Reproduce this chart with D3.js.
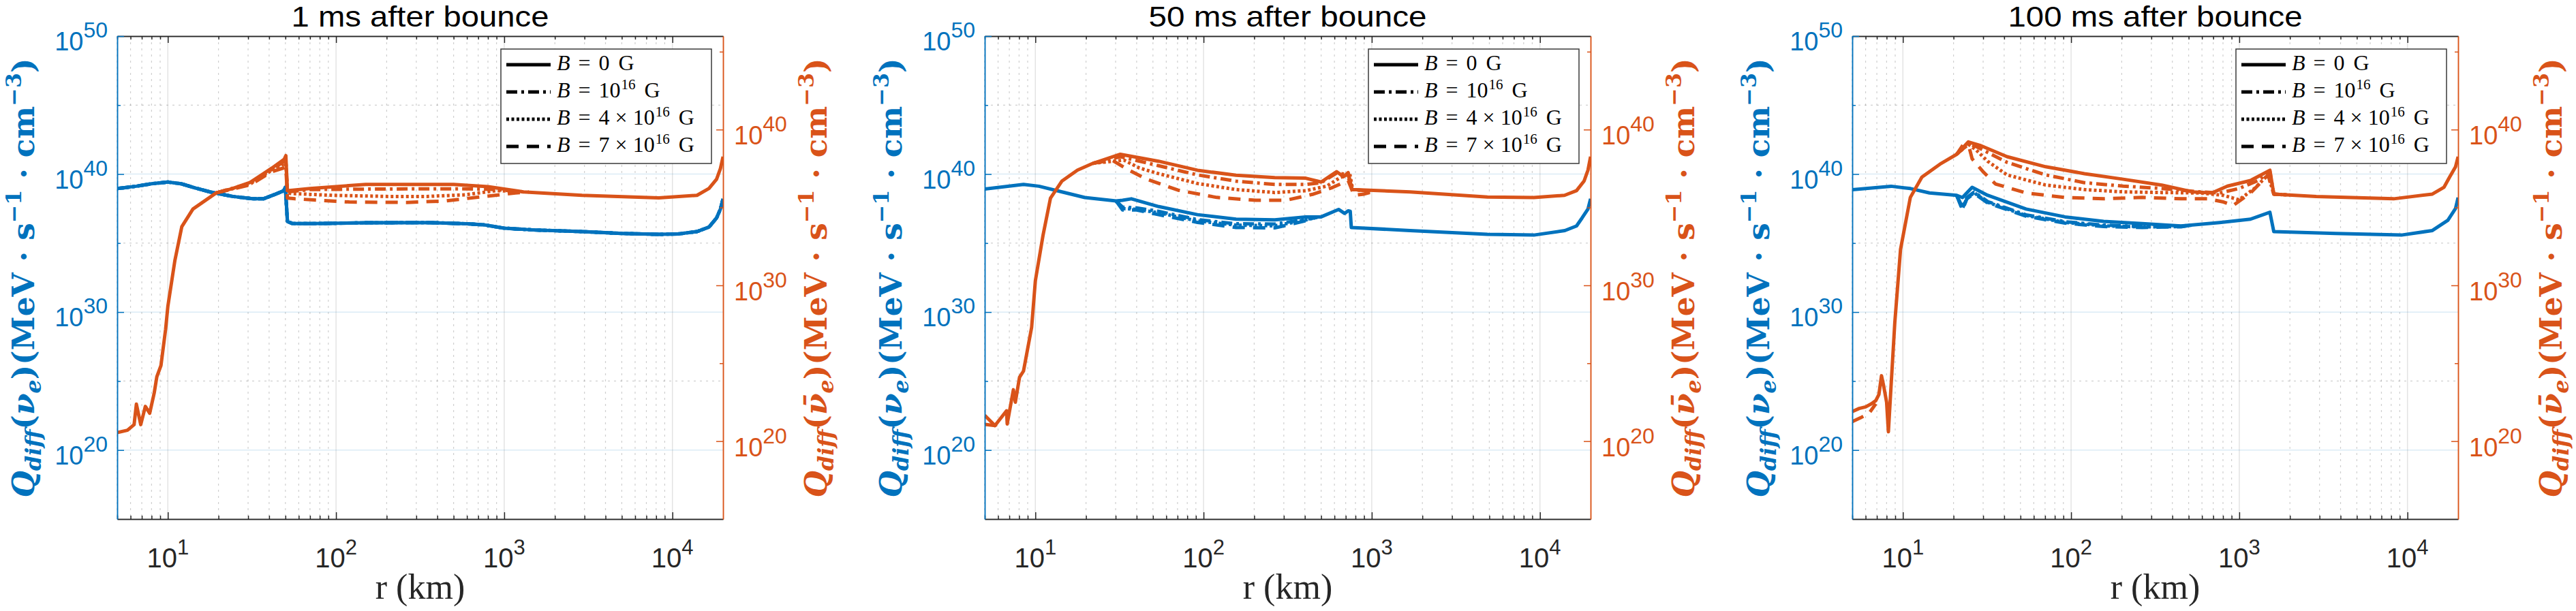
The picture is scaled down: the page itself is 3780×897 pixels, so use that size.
<!DOCTYPE html>
<html>
<head>
<meta charset="utf-8">
<script src="https://d3js.org/d3.v7.min.js"></script>
<style>
  body { margin: 0; background: #fff; }
</style>
</head>
<body>
<div id="chart"></div>
<script>
// ---- axes / labels ----
const panelTitles = ["1 ms after bounce", "50 ms after bounce", "100 ms after bounce"];
const rDomain = [5, 20000];
const nueDomain = [1e15, 1e50];
const barDomain = [1e15, 1e46];
const rMajorTicks = [10, 100, 1000, 10000];
const nueMajorTicks = [1e20, 1e30, 1e40, 1e50];
const nueMinorTicks = [1e25, 1e35, 1e45];
const barMajorTicks = [1e20, 1e30, 1e40];
const barMinorTicks = [1e25, 1e35, 1e45];
// legend entries: [text, style, gap before]
const legendEntries = [
  [["B", "i", 0], ["=", "", 12], ["0", "", 12], ["G", "", 13]],
  [["B", "i", 0], ["=", "", 12], ["10", "", 12], ["16", "sup", 1], ["G", "", 13]],
  [["B", "i", 0], ["=", "", 12], ["4", "", 12], ["×", "", 8], ["10", "", 8], ["16", "sup", 1], ["G", "", 13]],
  [["B", "i", 0], ["=", "", 12], ["7", "", 12], ["×", "", 8], ["10", "", 8], ["16", "sup", 1], ["G", "", 13]]
];

// ---- 1 ms after bounce ----
const r1Nue = [5, 6.5, 8, 10, 12, 14.5, 17.8, 24.3, 32, 37, 43.6, 48.8, 50, 51.4, 55, 71, 150, 350, 600, 760, 1000, 1500, 2900, 5000, 8300, 10800, 14000, 16500, 18300, 19300, 20000];
const q1Nue = [8.9e38, 1.32e39, 2.0e39, 2.63e39, 2.0e39, 1.0e39, 5.1e38, 2.4e38, 1.62e38, 1.62e38, 3.47e38, 6.2e38, 1.1e39, 3.7e36, 2.63e36, 2.57e36, 2.95e36, 3.1e36, 2.51e36, 2.09e36, 1.2e36, 8.9e35, 6.8e35, 5.0e35, 4.27e35, 4.57e35, 6.8e35, 1.45e36, 6.6e36, 2.95e37, 1.58e38];

const r1Bar = [5, 5.75, 6.3, 6.5, 6.9, 7.35, 7.8, 8.3, 8.6, 9.1, 9.7, 10.0, 11.0, 12.1, 14.1, 19.4, 24, 30.8, 41.6, 49.2, 50.3, 51.4, 70, 150, 500, 800, 1300, 2900, 8300, 14000, 16500, 18300, 19300, 20000];
const q1Bar = [3.55e20, 5.0e20, 1.15e21, 2.4e22, 1.15e21, 1.7e22, 6.2e21, 1.26e23, 1.35e24, 7.1e24, 1.55e27, 4.4e28, 3.7e31, 5.75e33, 7.9e34, 8.7e35, 1.58e36, 4.0e36, 3.4e37, 1.26e38, 2.14e38, 1.2e36, 1.66e36, 3.0e36, 3.0e36, 2.19e36, 1.0e36, 6.0e35, 4.1e35, 6.0e35, 1.66e36, 6.5e36, 3.16e37, 1.82e38];
const r1BarB1 = [19.4, 30.8, 41.6, 49.2, 50.3, 51.4, 70, 150, 350, 600, 900, 1300];
const q1BarB1 = [8.7e35, 3.55e36, 2.8e37, 8.9e37, 1.0e38, 1.0e36, 1.41e36, 1.51e36, 1.58e36, 1.58e36, 1.41e36, 1.0e36];
const r1BarB4 = [19.4, 30.8, 41.6, 49.2, 50.3, 51.4, 54, 96, 204, 346, 587, 896, 1100];
const q1BarB4 = [8.7e35, 3.16e36, 2.5e37, 6.3e37, 7.1e37, 8.9e35, 7.9e35, 6.0e35, 5.1e35, 5.1e35, 6.5e35, 1.2e36, 1.12e36];
const r1BarB7 = [19.4, 30.8, 41.6, 49.2, 50.3, 51.4, 57, 120, 265, 450, 764, 1167, 1400];
const q1BarB7 = [8.7e35, 2.8e36, 2.0e37, 3.55e37, 4.0e37, 4.0e35, 3.6e35, 2.24e35, 2.1e35, 2.63e35, 5.1e35, 8.5e35, 1.0e36];

// ---- 50 ms after bounce ----
const r2Nue = [5, 8.5, 10.5, 14.4, 19.7, 30.2, 33, 37.2, 54.2, 92, 156, 265, 405, 500, 635, 690, 724, 745, 756, 1690, 4875, 9200, 14060, 16500, 17800, 19300, 20000];
const q2Nue = [8.3e38, 1.78e39, 1.32e39, 5.1e38, 2.0e38, 1.12e38, 1.26e38, 1.62e38, 4.4e37, 1.15e37, 5.4e36, 4.8e36, 7.9e36, 7.9e36, 2.75e37, 1.41e37, 2.2e37, 2.0e37, 1.35e36, 8.1e35, 4.3e35, 3.8e35, 8.1e35, 1.74e36, 6.6e36, 2.95e37, 1.62e38];
const r2NueVar = [30.2, 33, 40, 54, 92, 156, 265, 400, 480];
const q2NueB1 = [1.12e38, 4.0e37, 3.55e37, 2.0e37, 5.0e36, 2.5e36, 2.4e36, 5.0e36, 7.9e36];
const q2NueB4 = [1.12e38, 3.16e37, 2.8e37, 1.58e37, 4.0e36, 2.0e36, 1.78e36, 4.5e36, 7.9e36];
const q2NueB7 = [1.12e38, 2.5e37, 2.5e37, 1.15e37, 3.16e36, 1.35e36, 1.26e36, 4.0e36, 7.9e36];

const r2Bar = [5, 5.75, 6.74, 6.8, 7.4, 7.6, 8.05, 8.5, 9.5, 10.0, 11.1, 12.3, 14.4, 17.8, 22, 32, 54, 92, 156, 265, 405, 500, 618, 680, 724, 764, 1690, 4875, 9200, 14000, 16500, 18300, 19300, 20000];
const q2Bar = [4.5e21, 1.0e21, 8.9e21, 1.26e21, 2.0e23, 3.16e22, 1.26e24, 3.16e24, 2.0e27, 2.0e30, 1.58e33, 4.0e35, 5.0e36, 2.5e37, 6.8e37, 2.6e38, 9.3e37, 2.45e37, 1.17e37, 8.3e36, 7.6e36, 4.3e36, 2.0e37, 9.5e36, 1.74e37, 1.41e36, 1.0e36, 4.7e35, 4.3e35, 6.0e35, 1.2e36, 5.0e36, 2.5e37, 1.82e38];
const r2BarLow = [5, 5.75, 6.3];
const q2BarLow = [1.2e21, 1.0e21, 2.0e21];
const r2BarB1 = [22, 32, 54, 92, 156, 265, 405, 500, 618, 724, 764, 1000];
const q2BarB1 = [6.8e37, 1.82e38, 4.8e37, 1.23e37, 4.9e36, 3.0e36, 3.0e36, 3.9e36, 1.62e37, 1.32e37, 1.41e36, 1.12e36];
const r2BarB4 = [22, 33.6, 41.6, 54, 92, 156, 265, 405, 540, 640, 740, 770, 1000];
const q2BarB4 = [6.8e37, 1.1e38, 3.4e37, 1.48e37, 3.47e36, 1.41e36, 9.1e35, 1.2e36, 2.34e36, 7.6e36, 1.48e37, 1.41e36, 1.07e36];
const r2BarB7 = [22, 28.6, 35, 46, 70.6, 120, 204, 310, 450, 587, 724, 785, 900, 1000];
const q2BarB7 = [6.8e37, 1.1e38, 2.9e37, 6.5e36, 1.29e36, 4.4e35, 2.9e35, 2.9e35, 7.2e35, 1.95e36, 5.4e36, 6.0e35, 7.2e35, 1.0e36];

// ---- 100 ms after bounce ----
const r3Nue = [5, 8.5, 11.1, 14.4, 20.9, 22.6, 25.8, 31.9, 54, 92, 156, 265, 450, 764, 1167, 1521, 1604, 3741, 9200, 14060, 17380, 19300, 20000];
const q3Nue = [7.4e38, 1.32e39, 8.9e38, 4.3e38, 2.9e38, 2.0e38, 1.1e39, 2.9e38, 2.95e37, 7.9e36, 3.7e36, 2.57e36, 1.74e36, 3.1e36, 5.4e36, 1.7e37, 6.8e35, 5.0e35, 3.8e35, 8.1e35, 4.5e36, 3.16e37, 2.0e38];
const r3NueVar = [20.9, 22.6, 24, 26.5, 32, 54, 92, 156, 265, 450, 520];
const q3NueB1 = [2.8e38, 4.0e37, 2.0e38, 5.0e38, 1.0e38, 1.12e37, 3.55e36, 2.0e36, 1.58e36, 1.66e36, 2.0e36];
const q3NueB4 = [2.8e38, 3.16e37, 1.78e38, 4.5e38, 8.9e37, 1.0e37, 3.16e36, 1.78e36, 1.48e36, 1.58e36, 2.0e36];
const q3NueB7 = [2.8e38, 2.5e37, 1.58e38, 4.0e38, 7.9e37, 8.9e36, 2.8e36, 1.58e36, 1.35e36, 1.51e36, 2.0e36];

const r3Bar = [5, 5.5, 6.0, 6.5, 6.9, 7.2, 7.46, 7.7, 8.0, 8.2, 8.5, 8.95, 9.68, 11.07, 12.97, 16.9, 20.9, 24.5, 28.7, 41.6, 70.6, 120, 204, 346, 528, 687, 850, 1167, 1521, 1604, 2870, 8280, 14060, 16500, 17800, 19300, 20000];
const q3Bar = [7.9e21, 1.26e22, 1.58e22, 2.5e22, 4.0e22, 1.0e23, 1.58e24, 3.16e23, 3.16e22, 4.0e20, 3.16e23, 4.0e27, 2.0e32, 4.4e35, 8.9e36, 6.8e37, 2.6e38, 1.62e39, 9.8e38, 1.82e38, 4.1e37, 1.48e37, 6.5e36, 2.75e36, 1.0e36, 8.5e35, 2.34e36, 5.4e36, 2.45e37, 7.2e35, 5.1e35, 3.6e35, 7.2e35, 2.0e36, 8.9e36, 4.0e37, 1.82e38];
const r3BarLow = [5, 5.6, 6.3, 6.9];
const q3BarLow = [1.78e21, 3.16e21, 6.3e21, 2.5e22];
const r3BarB1 = [20.9, 23.2, 27.2, 41.6, 70.6, 120, 204, 346, 587, 764, 996, 1297, 1521, 1604, 2000];
const q3BarB1 = [2.6e38, 1.38e39, 8.3e38, 7.9e37, 1.23e37, 3.9e36, 2.34e36, 1.66e36, 1.0e36, 8.5e35, 1.66e36, 5.4e36, 2.0e37, 7.2e35, 6.3e35];
const r3BarB4 = [20.9, 24.5, 27.2, 31.9, 41.6, 70.6, 120, 204, 346, 587, 806, 996, 1231, 1482, 1604, 2000];
const q3BarB4 = [2.6e38, 1.15e39, 5.0e38, 9.3e37, 1.23e37, 2.75e36, 1.41e36, 1.0e36, 9.1e35, 8.5e35, 6.0e35, 3.1e35, 1.66e36, 1.23e37, 7.2e35, 6.3e35];
const r3BarB7 = [20.9, 24.5, 25.8, 30.3, 35.5, 54, 92, 156, 265, 450, 652, 806, 920, 1167, 1482, 1604, 2000];
const q3BarB7 = [2.6e38, 1.15e39, 1.32e38, 1.74e37, 3.24e36, 8.5e35, 4.4e35, 3.6e35, 4.4e35, 3.6e35, 3.6e35, 2.24e35, 1.35e35, 8.5e35, 1.23e37, 7.2e35, 6.3e35];

const pts = (r, q) => r.map((v, i) => [v, q[i]]);

// each panel: 4 field strengths, each a list of line pieces
const panels = [
  {
    title: panelTitles[0], titleLen: 378,
    nue: [[pts(r1Nue, q1Nue)], [pts(r1Nue, q1Nue)], [pts(r1Nue, q1Nue)], [pts(r1Nue, q1Nue)]],
    bar: [[pts(r1Bar, q1Bar)], [pts(r1BarB1, q1BarB1)], [pts(r1BarB4, q1BarB4)], [pts(r1BarB7, q1BarB7)]]
  },
  {
    title: panelTitles[1], titleLen: 408,
    nue: [[pts(r2Nue, q2Nue)], [pts(r2NueVar, q2NueB1)], [pts(r2NueVar, q2NueB4)], [pts(r2NueVar, q2NueB7)]],
    bar: [[pts(r2Bar, q2Bar)], [pts(r2BarB1, q2BarB1)], [pts(r2BarB4, q2BarB4)], [pts(r2BarB7, q2BarB7), pts(r2BarLow, q2BarLow)]]
  },
  {
    title: panelTitles[2], titleLen: 432,
    nue: [[pts(r3Nue, q3Nue)], [pts(r3NueVar, q3NueB1)], [pts(r3NueVar, q3NueB4)], [pts(r3NueVar, q3NueB7)]],
    bar: [[pts(r3Bar, q3Bar)], [pts(r3BarB1, q3BarB1)], [pts(r3BarB4, q3BarB4)], [pts(r3BarB7, q3BarB7), pts(r3BarLow, q3BarLow)]]
  }
];

const width = 3780, height = 897;
const blue = "#0072BD", orange = "#D95319", dark = "#262626";
const plotW = 889, plotTop = 53, plotBottom = 762;
const panelLefts = [172, 1445, 2718];
const dashes = [null, "16,6,4,6", "4,3.5", "18,12"];
const sans = "'Liberation Sans', Arial, Helvetica, sans-serif";
const serif = "'Liberation Serif', 'Times New Roman', serif";

const svg = d3.select("#chart").append("svg")
    .attr("width", width)
    .attr("height", height)
    .style("background", "#fff");

const isDecade = v => Math.abs(Math.log10(v) - Math.round(Math.log10(v))) < 1e-9;

// power-of-ten label: "10" + raised exponent
function powLabel(sel, v, base, sup, raise) {
    sel.append("tspan").attr("font-size", base).text("10");
    sel.append("tspan").attr("font-size", sup).attr("dy", -raise).text(Math.round(Math.log10(v)));
}

// rotated bold math label, stretched to the reference length
function yLabel(cx, cy, color, bar) {
    const fs = 48;
    const t = svg.append("text")
        .attr("font-family", "'DejaVu Serif', serif")
        .attr("font-weight", "bold")
        .attr("font-size", fs)
        .attr("fill", color)
        .attr("text-anchor", "middle");
    const parts = [
        ["Q", "i", 0], ["diff", "i", 1], ["(", "", 0], [bar ? "\u03BD\u0304" : "\u03BD", "i", 0], ["e", "i", 1],
        [")(MeV \u00B7 s", "", 0], ["\u22121", "", -1], [" \u00B7 cm", "", 0], ["\u22123", "", -1], [")", "", 0]
    ];
    let cur = 0;
    parts.forEach(([s, st, lvl]) => {
        const target = lvl === 1 ? 0.22 * fs : lvl === -1 ? -0.42 * fs : 0;
        const ts = t.append("tspan").text(s).attr("dy", target - cur);
        cur = target;
        if (lvl !== 0) ts.attr("font-size", fs * 0.7);
        if (st === "i") ts.attr("font-style", "italic");
    });
    const len = t.node().getComputedTextLength();
    t.attr("transform", `translate(${cx},${cy}) rotate(-90) scale(${645 / len})`);
}

panels.forEach((panel, p) => {
    const left = panelLefts[p], right = left + plotW;
    const x = d3.scaleLog().domain(rDomain).range([left, right]);
    const yL = d3.scaleLog().domain(nueDomain).range([plotBottom, plotTop]);
    const yR = d3.scaleLog().domain(barDomain).range([plotBottom, plotTop]);
    const g = svg.append("g");

    const xMinor = x.ticks().filter(v => !isDecade(v) && v < rDomain[1]);

    // grid
    const grid = g.append("g");
    grid.selectAll(".vmin").data(xMinor).join("line")
        .attr("x1", d => x(d)).attr("x2", d => x(d))
        .attr("y1", plotTop).attr("y2", plotBottom)
        .attr("stroke", "rgba(38,38,38,0.22)").attr("stroke-width", 1.2)
        .attr("stroke-dasharray", "3,6");
    grid.selectAll(".vmaj").data(rMajorTicks).join("line")
        .attr("x1", d => x(d)).attr("x2", d => x(d))
        .attr("y1", plotTop).attr("y2", plotBottom)
        .attr("stroke", "rgba(38,38,38,0.13)").attr("stroke-width", 1.5);
    grid.selectAll(".hmin").data(nueMinorTicks).join("line")
        .attr("x1", left).attr("x2", right)
        .attr("y1", d => yL(d)).attr("y2", d => yL(d))
        .attr("stroke", "rgba(38,38,38,0.22)").attr("stroke-width", 1.2)
        .attr("stroke-dasharray", "3,6");
    grid.selectAll(".hmaj").data(nueMajorTicks.filter(v => v < nueDomain[1])).join("line")
        .attr("x1", left).attr("x2", right)
        .attr("y1", d => yL(d)).attr("y2", d => yL(d))
        .attr("stroke", "rgba(0,114,189,0.14)").attr("stroke-width", 1.5);

    // clip
    const clipId = "clip" + p;
    svg.append("clipPath").attr("id", clipId)
        .append("rect").attr("x", left).attr("y", plotTop).attr("width", plotW).attr("height", plotBottom - plotTop);

    const lines = g.append("g").attr("clip-path", `url(#${clipId})`);
    const drawSet = (sets, y, color) => {
        sets.forEach((pieces, b) => {
            pieces.forEach(piece => {
                lines.append("path")
                    .attr("d", d3.line().x(d => x(d[0])).y(d => y(d[1]))(piece))
                    .attr("fill", "none")
                    .attr("stroke", color)
                    .attr("stroke-width", 5)
                    .attr("stroke-linejoin", "round")
                    .attr("stroke-dasharray", dashes[b]);
            });
        });
    };
    drawSet(panel.nue, yL, blue);
    drawSet(panel.bar, yR, orange);

    // axes
    const styleAxis = a => { a.selectAll("text").remove(); a.selectAll("path,line").attr("stroke-width", 1.5); };
    g.append("g").attr("transform", `translate(0,${plotBottom})`).attr("color", dark)
        .call(d3.axisBottom(x).tickValues(xMinor).tickSize(-5).tickSizeOuter(0)).call(styleAxis);
    g.append("g").attr("transform", `translate(0,${plotBottom})`).attr("color", dark)
        .call(d3.axisBottom(x).tickValues(rMajorTicks).tickSize(-10).tickSizeOuter(0)).call(styleAxis);
    g.append("g").attr("transform", `translate(0,${plotTop})`).attr("color", dark)
        .call(d3.axisTop(x).tickValues(xMinor).tickSize(-5).tickSizeOuter(0)).call(styleAxis);
    g.append("g").attr("transform", `translate(0,${plotTop})`).attr("color", dark)
        .call(d3.axisTop(x).tickValues(rMajorTicks).tickSize(-10).tickSizeOuter(0)).call(styleAxis);
    g.append("g").attr("transform", `translate(${left},0)`).attr("color", blue)
        .call(d3.axisLeft(yL).tickValues(nueMinorTicks).tickSize(-5).tickSizeOuter(0)).call(styleAxis);
    g.append("g").attr("transform", `translate(${left},0)`).attr("color", blue)
        .call(d3.axisLeft(yL).tickValues(nueMajorTicks).tickSize(-10).tickSizeOuter(0)).call(styleAxis);
    g.append("g").attr("transform", `translate(${right},0)`).attr("color", orange)
        .call(d3.axisRight(yR).tickValues(barMinorTicks).tickSize(-5).tickSizeOuter(0)).call(styleAxis);
    g.append("g").attr("transform", `translate(${right},0)`).attr("color", orange)
        .call(d3.axisRight(yR).tickValues(barMajorTicks).tickSize(-10).tickSizeOuter(0)).call(styleAxis);

    // tick labels
    rMajorTicks.forEach(v => {
        g.append("text").attr("x", x(v)).attr("y", 833).attr("text-anchor", "middle")
            .attr("font-family", sans).attr("fill", dark)
            .call(s => powLabel(s, v, 40, 31, 19));
    });
    nueMajorTicks.forEach(v => {
        g.append("text").attr("x", left - 14).attr("y", yL(v) + 21).attr("text-anchor", "end")
            .attr("font-family", sans).attr("fill", blue)
            .call(s => powLabel(s, v, 38, 32, 19));
    });
    barMajorTicks.forEach(v => {
        g.append("text").attr("x", right + 16).attr("y", yR(v) + 22).attr("text-anchor", "start")
            .attr("font-family", sans).attr("fill", orange)
            .call(s => powLabel(s, v, 38, 32, 19));
    });

    // title and x label
    g.append("text").attr("x", (left + right) / 2).attr("y", 39).attr("text-anchor", "middle")
        .attr("font-family", sans).attr("font-size", 42).attr("fill", "#000")
        .attr("textLength", panel.titleLen).attr("lengthAdjust", "spacingAndGlyphs")
        .text(panel.title);
    g.append("text").attr("x", (left + right) / 2).attr("y", 879).attr("text-anchor", "middle")
        .attr("font-family", serif).attr("font-size", 52).attr("fill", dark).text("r (km)");

    yLabel(left - 122, 408, blue, false);
    yLabel(right + 152, 408, orange, true);

    // legend
    const lx = right - 326, ly = 72;
    const leg = g.append("g");
    leg.append("rect").attr("x", lx).attr("y", ly).attr("width", 309).attr("height", 168)
        .attr("fill", "#fff").attr("stroke", "#3a3a3a").attr("stroke-width", 1.5);
    legendEntries.forEach((entry, i) => {
        leg.append("line")
            .attr("x1", lx + 8).attr("x2", lx + 73)
            .attr("y1", ly + 23 + 40 * i).attr("y2", ly + 23 + 40 * i)
            .attr("stroke", "#000").attr("stroke-width", 5)
            .attr("stroke-dasharray", dashes[i]);
        const t = leg.append("text").attr("x", lx + 82).attr("y", ly + 31 + 40 * i)
            .attr("font-family", serif).attr("font-size", 32).attr("fill", "#000");
        let raised = 0;
        entry.forEach(([s, st, gap]) => {
            const ts = t.append("tspan").text(s);
            const target = st === "sup" ? -12 : 0;
            ts.attr("dx", gap).attr("dy", target - raised);
            raised = target;
            if (st === "i") ts.attr("font-style", "italic");
            if (st === "sup") ts.attr("font-size", 21);
        });
    });
});
</script>
</body>
</html>
